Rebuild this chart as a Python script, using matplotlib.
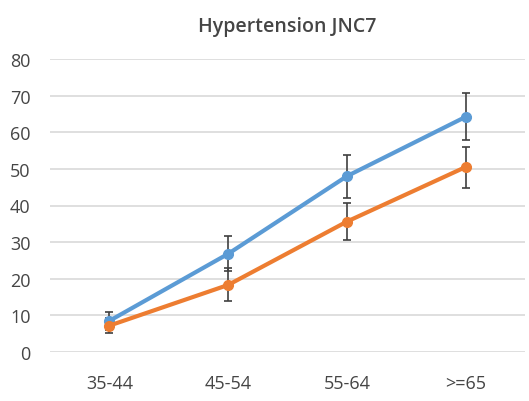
import matplotlib.pyplot as plt

ages = ['35-44', '45-54', '55-64', '>=65']
blue = [8.5, 26.8, 48.0, 64.2]
blue_err = [2.5, 4.8, 5.9, 6.4]
orange = [7.2, 18.3, 35.6, 50.5]
orange_err = [2.0, 4.5, 5.0, 5.6]

plt.rcParams['font.family'] = ['Open Sans', 'DejaVu Sans']

fig = plt.figure(figsize=(5.29, 4.02), dpi=100)
ax = fig.add_axes([50/529, 49/402, 475/529, 293/402])

x = range(len(ages))
ax.errorbar(x, blue, yerr=blue_err, color='#5B9BD5', lw=3, marker='o', ms=7,
            ecolor='#404040', elinewidth=1.2, capsize=3, capthick=1.2, zorder=3)
ax.errorbar(x, orange, yerr=orange_err, color='#ED7D31', lw=3, marker='o', ms=7,
            ecolor='#404040', elinewidth=1.2, capsize=3, capthick=1.2, zorder=3)

ax.set_xlim(-0.5, 3.5)
ax.set_ylim(0, 80)
ax.set_yticks(range(0, 81, 10))
ax.set_xticks(list(x))
ax.set_xticklabels(ages)
ax.grid(axis='y', color='#d9d9d9', lw=1.2)
ax.set_axisbelow(True)
for s in ax.spines.values():
    s.set_visible(False)
ax.tick_params(length=0, labelsize=13, colors='#454545', pad=14)
ax.tick_params(axis='x', pad=16)
for lbl in ax.get_xticklabels() + ax.get_yticklabels():
    lbl.set_fontweight('medium')
ax.set_title('Hypertension JNC7', fontsize=14, fontweight='semibold', color='#454545', pad=20)

fig.savefig('out.png', dpi=100)
